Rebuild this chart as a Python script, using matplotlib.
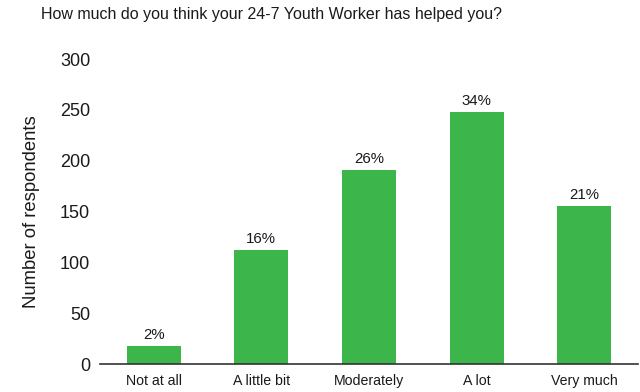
import matplotlib.pyplot as plt
import numpy as np

plt.rcParams['font.family'] = ['Liberation Sans', 'DejaVu Sans']

categorias = ['Not at all', 'A little bit', 'Moderately', 'A lot', 'Very much']
respuestas = [18, 112, 191, 248, 155]
porcentajes = ['2%', '16%', '26%', '34%', '21%']
marcas_y = [0, 50, 100, 150, 200, 250, 300]

verde = '#3cb54b'
texto = '#1a1a1a'

fig = plt.figure(figsize=(6.4, 3.92), dpi=100)
ax = fig.add_axes([0.156, 0.0714, 0.841, 0.778])

x = np.arange(len(categorias))
barras = ax.bar(x, respuestas, width=0.5, color=verde, zorder=2)

# etiquetas de porcentaje sobre cada barra
for barra, etiqueta in zip(barras, porcentajes):
    ax.annotate(etiqueta, (barra.get_x() + barra.get_width() / 2, barra.get_height()),
                xytext=(0, 3), textcoords='offset points',
                ha='center', va='bottom', fontsize=10.8, color=texto)

ax.set_xlim(-0.5, len(categorias) - 0.5)
ax.set_ylim(0, 300)
ax.set_yticks(marcas_y)
ax.set_yticklabels([str(v) for v in marcas_y], fontsize=13, color=texto)
ax.set_xticks(x)
ax.set_xticklabels(categorias, fontsize=10.2, color=texto)
ax.tick_params(axis='both', length=0)
ax.tick_params(axis='y', pad=7)
ax.tick_params(axis='x', pad=7)

for lado in ['top', 'right', 'left']:
    ax.spines[lado].set_visible(False)
ax.spines['bottom'].set_color('#333333')
ax.spines['bottom'].set_linewidth(1.2)

ax.set_ylabel('Number of respondents', fontsize=13.3, color=texto, labelpad=14)
fig.text(0.424, 0.962, 'How much do you think your 24-7 Youth Worker has helped you?',
         ha='center', va='center', fontsize=11.5, color=texto)

plt.savefig('out.png', dpi=100)
plt.close()
